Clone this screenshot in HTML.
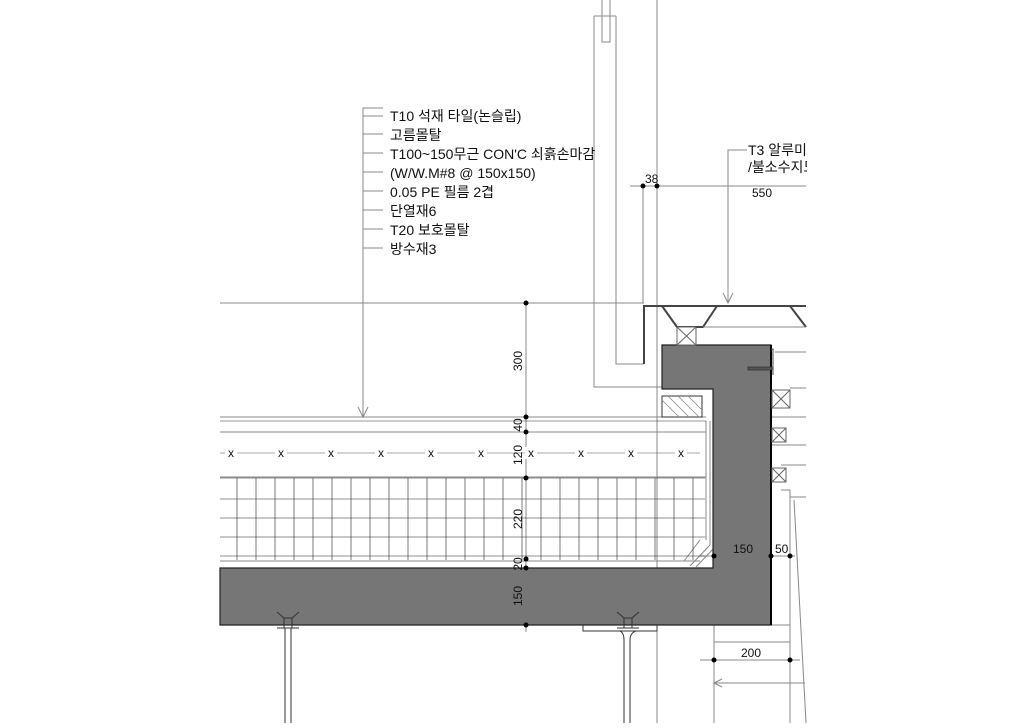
<!DOCTYPE html>
<html><head><meta charset="utf-8"><style>
html,body{margin:0;padding:0;background:#fff;}
svg text{font-family:"Liberation Sans","Noto Sans CJK KR",sans-serif;fill:#111;}
</style></head><body>
<svg width="1024" height="723" viewBox="0 0 1024 723" xmlns="http://www.w3.org/2000/svg">
<g stroke="#888" stroke-width="1" fill="none">
<polyline points="594,16 594,387 662,387"/>
<polyline points="616,16 616,364 644,364"/>
<line x1="594" y1="16" x2="616" y2="16"/>
<polyline points="602,0 602,42 610,42 610,0"/>
<line x1="657" y1="0" x2="657" y2="723"/>
<line x1="220" y1="303" x2="644" y2="303"/>
<line x1="630" y1="186" x2="806" y2="186"/>
<line x1="643" y1="186" x2="643" y2="303"/>
<polyline points="383,108 363,108 363,417"/>
<line x1="363" y1="116" x2="383" y2="116"/>
<line x1="363" y1="134" x2="383" y2="134"/>
<line x1="363" y1="153" x2="383" y2="153"/>
<line x1="363" y1="172" x2="383" y2="172"/>
<line x1="363" y1="191" x2="383" y2="191"/>
<line x1="363" y1="210" x2="383" y2="210"/>
<line x1="363" y1="229" x2="383" y2="229"/>
<line x1="363" y1="248" x2="383" y2="248"/>
<polyline points="358,407 363,417 368,407"/>
<polyline points="747,150 728,150 728,303"/>
<polyline points="723,293 728,303 733,293"/>
<line x1="220" y1="417" x2="706" y2="417"/>
<line x1="220" y1="432" x2="706" y2="432"/>
<line x1="220" y1="477" x2="706" y2="477"/>
<line x1="220" y1="561" x2="700" y2="561"/>
<line x1="706" y1="421" x2="706" y2="540"/>
<line x1="710" y1="421" x2="710" y2="545"/>
<line x1="700" y1="540" x2="684" y2="561"/>
<line x1="710" y1="545" x2="690" y2="566"/>
<line x1="714" y1="548" x2="696" y2="567"/>
<line x1="775" y1="352" x2="806" y2="352"/>
<line x1="790" y1="388" x2="806" y2="388"/>
<line x1="771" y1="417" x2="806" y2="417"/>
<line x1="771" y1="445" x2="806" y2="445"/>
<line x1="781" y1="465" x2="806" y2="465"/>
<polyline points="781,490 790,490 790,497 806,497"/>
<line x1="790" y1="497" x2="790" y2="723"/>
<line x1="794" y1="500" x2="806" y2="723"/>
<line x1="714" y1="556" x2="714" y2="723"/>
<line x1="714" y1="625" x2="790" y2="625"/>
<line x1="714" y1="642" x2="790" y2="642"/>
<line x1="700" y1="556" x2="795" y2="556"/>
<line x1="700" y1="660" x2="800" y2="660"/>
<line x1="714" y1="683" x2="805" y2="683"/>
<polyline points="722,679 714,683 722,687"/>
<line x1="526" y1="303" x2="526" y2="632"/>
</g>
<g stroke="#222" stroke-width="0.6">
<line x1="220" y1="478" x2="705" y2="478"/>
<line x1="220" y1="499" x2="705" y2="499"/>
<line x1="220" y1="518" x2="705" y2="518"/>
<line x1="220" y1="537" x2="705" y2="537"/>
<line x1="220" y1="556" x2="705" y2="556"/>
<line x1="237" y1="478" x2="237" y2="560"/><line x1="256" y1="478" x2="256" y2="560"/><line x1="275" y1="478" x2="275" y2="560"/><line x1="294" y1="478" x2="294" y2="560"/><line x1="313" y1="478" x2="313" y2="560"/><line x1="332" y1="478" x2="332" y2="560"/><line x1="351" y1="478" x2="351" y2="560"/><line x1="370" y1="478" x2="370" y2="560"/><line x1="389" y1="478" x2="389" y2="560"/><line x1="408" y1="478" x2="408" y2="560"/><line x1="427" y1="478" x2="427" y2="560"/><line x1="446" y1="478" x2="446" y2="560"/><line x1="465" y1="478" x2="465" y2="560"/><line x1="484" y1="478" x2="484" y2="560"/><line x1="503" y1="478" x2="503" y2="560"/><line x1="522" y1="478" x2="522" y2="560"/><line x1="541" y1="478" x2="541" y2="560"/><line x1="560" y1="478" x2="560" y2="560"/><line x1="579" y1="478" x2="579" y2="560"/><line x1="598" y1="478" x2="598" y2="560"/><line x1="617" y1="478" x2="617" y2="560"/><line x1="636" y1="478" x2="636" y2="560"/><line x1="655" y1="478" x2="655" y2="560"/><line x1="674" y1="478" x2="674" y2="560"/><line x1="693" y1="478" x2="693" y2="560"/>
<line x1="220" y1="421" x2="706" y2="421" stroke="#333"/>
<line x1="220" y1="453" x2="700" y2="453" stroke="#555"/>
</g>
<g fill="#fff">
<rect x="225" y="447" width="12" height="12"/><rect x="275" y="447" width="12" height="12"/><rect x="325" y="447" width="12" height="12"/><rect x="375" y="447" width="12" height="12"/><rect x="425" y="447" width="12" height="12"/><rect x="475" y="447" width="12" height="12"/><rect x="525" y="447" width="12" height="12"/><rect x="575" y="447" width="12" height="12"/><rect x="625" y="447" width="12" height="12"/><rect x="675" y="447" width="12" height="12"/>
</g>
<g font-size="12" text-anchor="middle">
<text x="231" y="457">x</text><text x="281" y="457">x</text><text x="331" y="457">x</text><text x="381" y="457">x</text><text x="431" y="457">x</text><text x="481" y="457">x</text><text x="531" y="457">x</text><text x="581" y="457">x</text><text x="631" y="457">x</text><text x="681" y="457">x</text>
</g>
<path d="M220,568 L713,568 L713,389 L662,389 L662,345 L771,345 L771,625 L220,625 Z" fill="#767676" stroke="#222" stroke-width="1.2"/>
<line x1="771" y1="345" x2="771" y2="625" stroke="#000" stroke-width="2"/>
<rect x="662" y="396" width="40" height="21" fill="#fff" stroke="#333"/>
<g stroke="#888" stroke-width="0.8"><line x1="668" y1="396" x2="689" y2="417"/><line x1="678" y1="396" x2="699" y2="417"/><line x1="688" y1="396" x2="702" y2="410"/><line x1="662" y1="400" x2="679" y2="417"/></g>
<g stroke="#444" stroke-width="2" fill="none">
<polyline points="644,364 644,306 806,306"/>
<polyline points="662,306 677,327 703,327 717,306"/>
<polyline points="790,306 806,327"/>
</g>
<line x1="703" y1="327" x2="806" y2="327" stroke="#888"/>
<g stroke="#666" fill="#fff" stroke-width="1">
<rect x="677" y="327" width="19" height="18"/><line x1="677" y1="327" x2="696" y2="345"/><line x1="696" y1="327" x2="677" y2="345"/>
<rect x="772" y="390" width="18" height="18"/><line x1="772" y1="390" x2="790" y2="408"/><line x1="790" y1="390" x2="772" y2="408"/>
<rect x="772" y="428" width="14" height="14"/><line x1="772" y1="428" x2="786" y2="442"/><line x1="786" y1="428" x2="772" y2="442"/>
<rect x="772" y="468" width="14" height="14"/><line x1="772" y1="468" x2="786" y2="482"/><line x1="786" y1="468" x2="772" y2="482"/>
</g>
<polyline points="771,349 773,349 773,375" stroke="#444" fill="none"/>
<rect x="748" y="367" width="24" height="3" fill="#555" stroke="#222" stroke-width="0.6"/>
<g stroke="#333" fill="none" stroke-width="1">
<polyline points="583,625 583,631 657,631 657,625"/>
<path d="M277,612 L284,618 L292,618 L299,612 M277,628 L299,628 M284,618 L284,628 M292,618 L292,628 M285,628 L285,723 M291,628 L291,723"/>
<path d="M617,612 L624,618 L632,618 L639,612 M617,628 L639,628 M624,618 L624,628 M632,618 L632,628 M620,631 Q624,633 624,640 L624,723 M636,631 Q630,633 630,640 L630,723"/>
</g>
<g fill="#000">
<circle cx="526" cy="303" r="2.5"/><circle cx="526" cy="417" r="2.5"/><circle cx="526" cy="432" r="2.5"/><circle cx="526" cy="478" r="2.5"/><circle cx="526" cy="559" r="2.5"/><circle cx="526" cy="568" r="2.5"/><circle cx="526" cy="625" r="2.5"/>
<circle cx="643" cy="186" r="2.5"/><circle cx="657" cy="186" r="2.5"/>
<circle cx="714" cy="556" r="2.5"/><circle cx="771" cy="556" r="2.5"/><circle cx="790" cy="556" r="2.5"/>
<circle cx="714" cy="660" r="2.5"/><circle cx="790" cy="660" r="2.5"/>
</g>
<g font-size="14">
<text x="390" y="121">T10 석재 타일(논슬립)</text>
<text x="390" y="140">고름몰탈</text>
<text x="390" y="159">T100~150무근 CON'C 쇠흙손마감</text>
<text x="390" y="178">(W/W.M#8 @ 150x150)</text>
<text x="390" y="197">0.05 PE 필름 2겹</text>
<text x="390" y="216">단열재6</text>
<text x="390" y="235">T20 보호몰탈</text>
<text x="390" y="254">방수재3</text>
<text x="748" y="155">T3 알루미늄</text>
<text x="748" y="172">/불소수지도장</text>
</g>
<rect x="807" y="100" width="217" height="100" fill="#fff"/>
<g font-size="12">
<text x="645" y="183">38</text>
<text x="752" y="197">550</text>
<text x="733" y="553">150</text>
<text x="775" y="553">50</text>
<text x="741" y="657">200</text>
</g>
<g font-size="12" text-anchor="middle">
<text transform="translate(522,361) rotate(-90)">300</text>
<text transform="translate(522,425) rotate(-90)">40</text>
<text transform="translate(522,455) rotate(-90)">120</text>
<text transform="translate(522,519) rotate(-90)">220</text>
<text transform="translate(522,564) rotate(-90)">20</text>
<text transform="translate(522,596) rotate(-90)">150</text>
</g>
</svg>
</body></html>
